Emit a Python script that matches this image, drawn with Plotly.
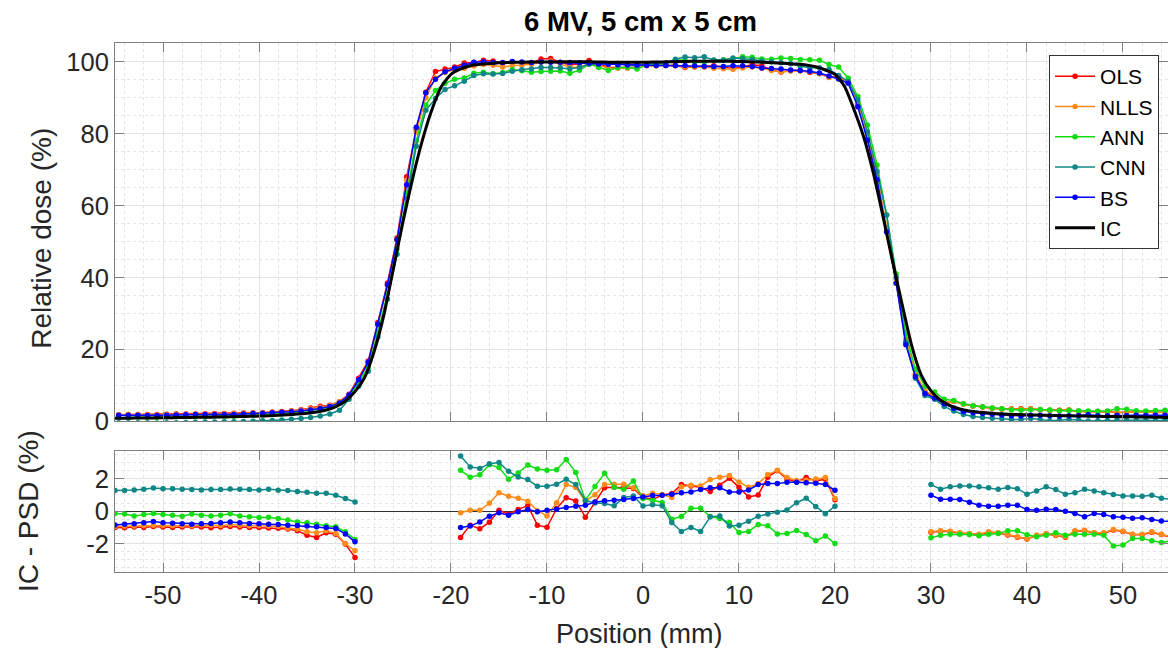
import numpy as np
import plotly.graph_objects as go

# ---------------------------------------------------------------
# Ionisation-chamber reference profile (1 mm grid, -55 ... 55 mm)
# ---------------------------------------------------------------
position = np.arange(-55, 56)
ic_dose = [
    0.9, 0.92, 0.95, 0.98, 1.0, 1.03, 1.06, 1.1, 1.13, 1.17, 1.21, 1.26, 1.31, 1.37, 1.43,
    1.5, 1.6, 1.72, 1.87, 2.05, 2.3, 2.65, 3.2, 4.1, 5.7,
    8.3, 12.2, 19.5, 29.5, 42.5, 55.5, 67.5, 78.0, 86.6, 93.1,
    96.5, 98.0, 98.9, 99.3, 99.5, 99.7, 99.8, 99.85, 99.9, 99.9,
    99.9, 99.95, 100.0, 100.0, 100.0, 99.95, 99.9, 99.85, 99.85, 99.85,
    99.85, 99.9, 99.95, 100.0, 100.05, 100.1, 100.1, 100.1, 100.1, 100.1,
    100.05, 100.0, 99.9, 99.8, 99.65, 99.5, 99.35, 99.1, 98.6, 97.7,
    96.5, 93.1, 86.6, 79.0, 69.0, 57.0, 44.5, 32.5, 21.0, 12.8,
    8.5, 5.9, 4.4, 3.5, 2.95, 2.6, 2.35, 2.15, 2.0, 1.92,
    1.85, 1.78, 1.72, 1.66, 1.6, 1.55, 1.5, 1.45, 1.41, 1.37,
    1.33, 1.29, 1.25, 1.21, 1.17, 1.13,
]

# ---------------------------------------------------------------
# IC - PSD differences (%) in the three evaluated regions
# ---------------------------------------------------------------
pos_left = np.arange(-55, -29)     # -55 ... -30
pos_center = np.arange(-19, 21)    # -19 ... 20
pos_right = np.arange(30, 56)      # 30 ... 55

diff_left = {
    "OLS": [-1.0, -1.02, -0.98, -1.0, -0.94, -0.97, -1.01, -0.97, -0.95, -0.97, -1.02, -0.97, -0.95,
            -0.97, -1.0, -1.0, -1.03, -1.05, -1.1, -1.2, -1.48, -1.62, -1.33, -1.42, -2.03, -2.85],
    "NLLS": [-0.95, -0.93, -0.92, -0.9, -0.86, -0.88, -0.9, -0.88, -0.9, -0.85, -0.86, -0.88, -0.84,
             -0.86, -0.9, -0.9, -0.92, -0.95, -1.05, -1.1, -1.27, -1.33, -1.2, -1.37, -2.0, -2.44],
    "ANN": [-0.14, -0.18, -0.3, -0.2, -0.14, -0.2, -0.25, -0.31, -0.18, -0.25, -0.29, -0.25, -0.16,
            -0.29, -0.35, -0.39, -0.37, -0.45, -0.55, -0.66, -0.72, -0.8, -0.9, -0.96, -1.27, -1.74],
    "CNN": [1.27, 1.28, 1.3, 1.35, 1.43, 1.39, 1.38, 1.35, 1.34, 1.31, 1.33, 1.34, 1.37,
            1.36, 1.33, 1.3, 1.35, 1.29, 1.27, 1.22, 1.17, 1.1, 1.1, 0.98, 0.78, 0.57],
    "BS": [-0.85, -0.8, -0.78, -0.72, -0.64, -0.72, -0.74, -0.78, -0.8, -0.78, -0.76, -0.72, -0.66,
           -0.72, -0.76, -0.78, -0.8, -0.82, -0.86, -0.88, -0.92, -0.96, -1.0, -1.07, -1.4, -1.89],
}
diff_center = {
    "OLS": [-1.62, -0.86, -1.09, -0.68, 0.06, -0.19, 0.11, 0.34, -0.86, -0.99,
            0.16, 0.83, 0.63, -0.37, 0.55, 1.45, 1.48, 1.46, 1.4, 0.86,
            0.73, 1.0, 1.09, 1.64, 1.56, 1.47, 1.21, 1.6, 2.03, 1.47,
            0.88, 1.0, 2.1, 2.5, 1.98, 1.8, 2.07, 1.87, 1.97, 0.71],
    "NLLS": [-0.09, 0.06, 0.06, 0.49, 1.14, 0.92, 0.8, 0.62, 0.03, -0.29,
             0.52, 1.64, 1.46, 0.62, 1.02, 1.65, 1.66, 1.66, 1.45, 0.95,
             1.11, 1.03, 0.84, 1.5, 1.6, 1.56, 1.95, 2.09, 2.2, 1.8,
             1.48, 1.7, 2.26, 2.52, 2.08, 1.9, 1.91, 1.98, 2.07, 0.78],
    "ANN": [2.52, 2.1, 2.24, 2.86, 2.7, 1.97, 2.36, 2.85, 2.6, 2.52,
            2.56, 3.19, 2.38, 0.68, 1.53, 2.34, 1.47, 1.36, 1.86, 0.78,
            0.68, 0.54, -0.49, -0.33, 0.18, 0.18, -0.33, -0.45, -0.7, -1.32,
            -1.25, -0.82, -0.9, -1.4, -1.37, -1.19, -1.43, -1.83, -1.53, -2.0],
    "CNN": [3.4, 2.73, 2.63, 2.93, 3.0, 2.46, 2.11, 1.95, 1.54, 1.54,
            1.66, 1.97, 1.64, 0.66, 0.5, 0.47, 0.33, 0.84, 0.94, 0.32,
            0.39, 0.34, -0.7, -1.25, -1.0, -1.25, -0.35, -0.3, -0.92, -0.86,
            -0.62, -0.31, -0.18, -0.07, 0.08, 0.52, 0.8, 0.29, -0.16, 0.31],
    "BS": [-1.0, -0.92, -0.66, -0.31, -0.1, -0.25, -0.04, 0.1, -0.04, 0.06,
           0.12, 0.23, 0.31, 0.37, 0.57, 0.64, 0.68, 0.72, 0.78, 0.88,
           0.96, 0.98, 1.05, 1.13, 1.19, 1.33, 1.45, 1.45, 1.19, 1.19,
           1.31, 1.64, 1.7, 1.7, 1.78, 1.78, 1.76, 1.72, 1.64, 1.29],
}
diff_right = {
    "OLS": [-1.3, -1.24, -1.25, -1.36, -1.39, -1.45, -1.3, -1.35, -1.47, -1.6, -1.72, -1.5, -1.4,
            -1.5, -1.6, -1.24, -1.2, -1.35, -1.36, -1.16, -1.26, -1.44, -1.45, -1.3, -1.44, -1.6],
    "NLLS": [-1.27, -1.21, -1.23, -1.33, -1.37, -1.42, -1.27, -1.33, -1.44, -1.58, -1.7, -1.48, -1.37,
             -1.48, -1.58, -1.21, -1.17, -1.33, -1.33, -1.13, -1.23, -1.42, -1.42, -1.27, -1.42, -1.58],
    "ANN": [-1.64, -1.48, -1.42, -1.42, -1.44, -1.52, -1.42, -1.37, -1.21, -1.21, -1.45, -1.58, -1.48,
            -1.33, -1.48, -1.42, -1.42, -1.42, -1.48, -2.15, -2.09, -1.68, -1.68, -1.83, -1.93, -1.83],
    "CNN": [1.64, 1.36, 1.5, 1.56, 1.56, 1.5, 1.44, 1.36, 1.46, 1.39, 1.05, 1.25, 1.5,
            1.33, 1.05, 1.13, 1.35, 1.25, 1.13, 1.03, 0.94, 0.94, 0.92, 0.98, 0.8, 0.74],
    "BS": [0.98, 0.74, 0.74, 0.72, 0.55, 0.37, 0.31, 0.31, 0.37, 0.37, 0.1, 0.06, 0.12,
           0.1, 0.0, -0.14, -0.35, -0.14, -0.2, -0.35, -0.37, -0.43, -0.41, -0.51, -0.6, -0.62],
}

# ---------------------------------------------------------------
# PSD doses measured directly in the penumbra regions (%)
# ---------------------------------------------------------------
pen_left_pos = np.arange(-31, -19)   # -31 ... -20
pen_right_pos = np.arange(21, 32)    # 21 ... 31
pen_left = {
    "OLS": [7.6, 12.0, 16.8, 27.5, 38.5, 51.0, 68.0, 81.0, 91.5, 97.3, 98.0, 98.5],
    "NLLS": [7.4, 11.6, 16.2, 26.8, 37.8, 50.3, 67.0, 80.5, 90.0, 95.5, 97.0, 97.8],
    "ANN": [6.8, 10.8, 15.0, 24.8, 35.5, 48.0, 63.5, 78.0, 88.0, 92.0, 94.0, 95.1],
    "CNN": [6.2, 9.8, 14.0, 23.5, 34.0, 46.5, 62.0, 76.5, 86.5, 89.8, 92.3, 93.3],
    "BS": [7.4, 11.6, 16.5, 27.0, 38.0, 50.5, 65.8, 81.8, 91.4, 95.1, 97.2, 98.2],
}
pen_right = {
    "OLS": [94.2, 88.0, 78.7, 67.5, 53.0, 38.5, 22.0, 13.0, 8.2, 7.0, 5.3],
    "NLLS": [94.3, 88.5, 79.5, 68.5, 54.0, 39.5, 23.0, 13.3, 8.5, 7.2, 5.4],
    "ANN": [95.4, 90.3, 82.4, 71.3, 57.4, 41.0, 24.5, 14.5, 9.8, 8.2, 6.2],
    "CNN": [94.5, 89.4, 80.5, 69.5, 57.4, 40.0, 22.0, 12.0, 7.2, 6.2, 4.2],
    "BS": [94.0, 87.5, 78.2, 67.2, 52.7, 38.4, 21.3, 12.5, 7.8, 6.5, 4.9],
}

# PSD samples sit slightly off the IC grid
psd_offset = 0.38

methods = ["OLS", "NLLS", "ANN", "CNN", "BS"]
colors = {
    "OLS": "#ff0000",
    "NLLS": "#ff8c1a",
    "ANN": "#14dc14",
    "CNN": "#0f8787",
    "BS": "#0000ff",
}

FONT = "Liberation Sans, Arial, sans-serif"
TXT = "#262626"
AX = "#808080"


def psd_profile(name):
    """PSD profile: IC minus the plotted difference, penumbra as measured."""
    ic = dict(zip(position.tolist(), ic_dose))
    prof = {}
    for grid, diffs in ((pos_left, diff_left), (pos_center, diff_center), (pos_right, diff_right)):
        for p, d in zip(grid.tolist(), diffs[name]):
            prof[p] = ic[p] - d
    for grid, vals in ((pen_left_pos, pen_left), (pen_right_pos, pen_right)):
        for p, v in zip(grid.tolist(), vals[name]):
            prof[p] = v
    xs = sorted(prof)
    return [x + psd_offset for x in xs], [prof[x] for x in xs]


def joined(name):
    xs, ys = [], []
    for k, (grid, diffs) in enumerate(((pos_left, diff_left), (pos_center, diff_center),
                                       (pos_right, diff_right))):
        if k:
            xs.append(None)
            ys.append(None)
        xs += grid.tolist()
        ys += diffs[name]
    return xs, ys


fig = go.Figure()

for m in methods:
    px_, py_ = psd_profile(m)
    fig.add_trace(go.Scatter(
        x=px_, y=py_, name=m, mode="lines+markers",
        line=dict(color=colors[m], width=1.5),
        marker=dict(color=colors[m], size=5.5),
        xaxis="x", yaxis="y",
    ))
fig.add_trace(go.Scatter(
    x=position, y=ic_dose, name="IC", mode="lines",
    line=dict(color="#000000", width=3, shape="spline", smoothing=0.6),
    xaxis="x", yaxis="y",
))

for m in methods:
    dx, dy = joined(m)
    fig.add_trace(go.Scatter(
        x=dx, y=dy, name=m, mode="lines+markers", showlegend=False,
        line=dict(color=colors[m], width=1.5),
        marker=dict(color=colors[m], size=5.5),
        connectgaps=False,
        xaxis="x2", yaxis="y2",
    ))

x_ticks = list(range(-50, 51, 10))
x_range = [-55, 54.69]

common_x = dict(
    range=x_range, tickvals=x_ticks, ticktext=[str(t) for t in x_ticks],
    ticks="inside", ticklen=9, tickcolor=AX, tickwidth=1,
    showline=True, linecolor=AX, linewidth=1, mirror="ticks",
    showgrid=True, gridcolor="#e2e2e2", gridwidth=1, zeroline=False,
    minor=dict(dtick=2, tick0=0, showgrid=True, gridcolor="#e4e4e4",
               griddash="dot", ticks=""),
    tickfont=dict(family=FONT, size=25.5, color=TXT),
)

fig.update_layout(
    width=1168, height=648,
    margin=dict(l=115, r=0, t=43, b=76),
    paper_bgcolor="white", plot_bgcolor="white",
    font=dict(family=FONT, color=TXT),
    xaxis=dict(common_x, anchor="y", showticklabels=False),
    yaxis=dict(
        domain=[0.2845, 1.0], range=[0, 105.2], anchor="x",
        tickvals=[0, 20, 40, 60, 80, 100], ticktext=["0", "20", "40", "60", "80", "100"],
        ticks="inside", ticklen=9, tickcolor=AX, tickwidth=1,
        showline=True, linecolor=AX, linewidth=1, mirror="ticks",
        showgrid=True, gridcolor="#e2e2e2", zeroline=False,
        minor=dict(dtick=5, tick0=0, showgrid=True, gridcolor="#e4e4e4",
                   griddash="dot", ticks=""),
        tickfont=dict(family=FONT, size=25.5, color=TXT),
    ),
    xaxis2=dict(common_x, anchor="y2", showticklabels=True),
    yaxis2=dict(
        domain=[0.0, 0.2293], range=[-3.75, 3.73], anchor="x2",
        tickvals=[-2, 0, 2], ticktext=["-2", "0", "2"],
        ticks="inside", ticklen=9, tickcolor=AX, tickwidth=1,
        showline=True, linecolor=AX, linewidth=1, mirror="ticks",
        showgrid=True, gridcolor="#e2e2e2",
        zeroline=True, zerolinecolor="#303030", zerolinewidth=1.2,
        minor=dict(dtick=0.5, tick0=0, showgrid=True, gridcolor="#e4e4e4",
                   griddash="dot", ticks=""),
        tickfont=dict(family=FONT, size=25.5, color=TXT),
    ),
    legend=dict(
        x=0.9915, xanchor="right", y=0.9773, yanchor="top",
        bgcolor="white", bordercolor="#333333", borderwidth=1,
        font=dict(family=FONT, size=21, color="#000000"),
        itemwidth=40, tracegroupgap=0,
    ),
    showlegend=True,
)

fig.add_annotation(text="<b>6 MV, 5 cm x 5 cm</b>", xref="paper", yref="paper",
                   x=0.4995, y=1.04, xanchor="center", yanchor="middle", showarrow=False,
                   font=dict(family=FONT, size=27.5, color="#000000"))
fig.add_annotation(text="Relative dose (%)", xref="paper", yref="paper",
                   x=-0.0693, y=0.63, textangle=-90, xanchor="center", yanchor="middle",
                   showarrow=False, font=dict(family=FONT, size=28, color=TXT))
fig.add_annotation(text="IC - PSD (%)", xref="paper", yref="paper",
                   x=-0.0826, y=0.1153, textangle=-90, xanchor="center", yanchor="middle",
                   showarrow=False, font=dict(family=FONT, size=28, color=TXT))
fig.add_annotation(text="Position (mm)", xref="paper", yref="paper",
                   x=0.4985, y=-0.118, xanchor="center", yanchor="middle",
                   showarrow=False, font=dict(family=FONT, size=27, color=TXT))

fig.write_html("out.html")
